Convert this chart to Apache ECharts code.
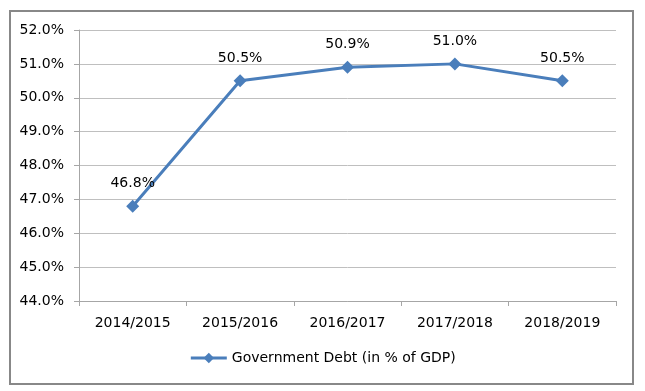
<!DOCTYPE html>
<html><head><meta charset="utf-8">
<script src="https://cdn.jsdelivr.net/npm/echarts@6/dist/echarts.min.js"></script>
<style>html,body{margin:0;padding:0;background:#fff}#c{width:645px;height:391px}
#frame{position:absolute;left:9px;top:10px;width:625px;height:375px;border:2px solid #888;box-sizing:border-box;pointer-events:none}</style>
</head><body><div id="c"></div><div id="frame"></div>
<script>
const categories = ['2014/2015','2015/2016','2016/2017','2017/2018','2018/2019'];
const debt = [46.8, 50.5, 50.9, 51.0, 50.5];
const seriesName = 'Government Debt (in % of GDP)';
const yMin = 44, yMax = 52, yStep = 1;
const font = 'DejaVu Sans, sans-serif';
const chart = echarts.init(document.getElementById('c'));
chart.setOption({
  animation:false,
  grid:{left:79,right:29,top:30,bottom:90,containLabel:false},
  legend:{bottom:21,left:'center',itemWidth:36,itemHeight:13,itemGap:4,
    textStyle:{fontFamily:font,fontSize:14,color:'#000'},
    data:[{name:seriesName,lineStyle:{width:3}}]},
  xAxis:{type:'category',data:categories,boundaryGap:true,
    axisLine:{lineStyle:{color:'#A6A6A6',width:1}},
    axisTick:{show:true,length:5,lineStyle:{color:'#A6A6A6'}},
    axisLabel:{fontFamily:font,fontSize:14,color:'#000',margin:15}},
  yAxis:{type:'value',min:yMin,max:yMax,interval:yStep,
    axisLine:{show:true,lineStyle:{color:'#A6A6A6'}},
    axisTick:{show:true,length:5,lineStyle:{color:'#A6A6A6'}},
    splitLine:{lineStyle:{color:'#BFBFBF',width:1}},
    axisLabel:{fontFamily:font,fontSize:14,color:'#000',margin:15,
      formatter:v=>v.toFixed(1)+'%'}},
  series:[{name:seriesName,type:'line',data:debt,
    symbol:'diamond',symbolSize:13,
    lineStyle:{color:'#4A7EBB',width:3},
    itemStyle:{color:'#4A7EBB'},
    label:{show:true,position:'top',distance:9,fontFamily:font,fontSize:14,color:'#000',
      formatter:p=>p.value.toFixed(1)+'%'}}]
});
</script></body></html>
